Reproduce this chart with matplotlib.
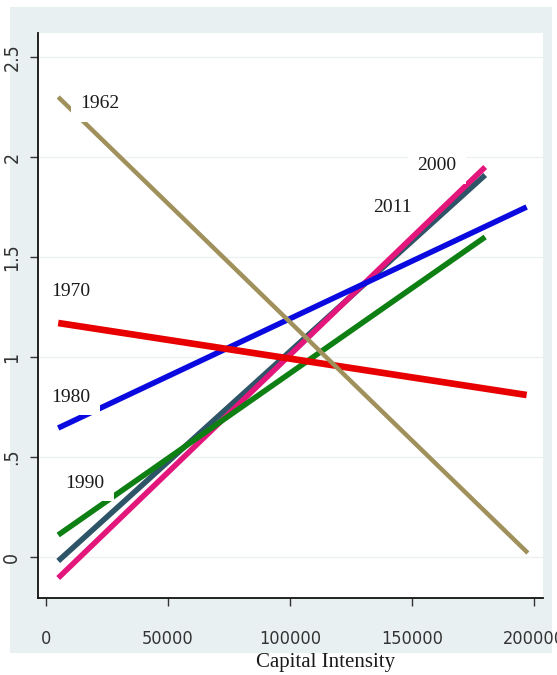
import matplotlib.pyplot as plt
from matplotlib import font_manager
from matplotlib.patches import Rectangle

# -----------------------------
# Data: fitted lines by year
# -----------------------------
years = ["1962", "1970", "1980", "1990", "2000", "2011"]
x_start = [5000, 5000, 5000, 5000, 5000, 5000]
x_end = [197500, 197000, 197000, 180000, 180000, 180000]
y_start = [2.30, 1.17, 0.645, 0.11, -0.105, -0.02]
y_end = [0.02, 0.81, 1.75, 1.60, 1.95, 1.91]

x_ticks = [0, 50000, 100000, 150000, 200000]
y_ticks = [0, 0.5, 1, 1.5, 2, 2.5]
y_tick_labels = ["0", ".5", "1", "1.5", "2", "2.5"]

# -----------------------------
# Styling
# -----------------------------
colors = {
    "1962": "#A0915C",
    "1970": "#E80000",
    "1980": "#0A0AE0",
    "1990": "#0E7F12",
    "2000": "#E3167C",
    "2011": "#2E5468",
}
widths = {"1962": 3.2, "1970": 4.8, "1980": 4.0, "1990": 4.0, "2000": 4.0, "2011": 4.0}
# drawing order, first drawn ends up underneath
z_order = {"2011": 2, "2000": 3, "1990": 4, "1980": 5, "1970": 6, "1962": 7}
label_xy = {
    "1962": (22100, 2.265),
    "1970": (10250, 1.33),
    "1980": (10250, 0.80),
    "1990": (16000, 0.37),
    "2000": (160300, 1.955),
    "2011": (141800, 1.75),
}

serif = ["Liberation Serif", "DejaVu Serif"]


def tick_font(size):
    # condensed sans for the axis numbers
    return font_manager.FontProperties(family="DejaVu Sans", stretch="condensed", size=size)


def plot_lines():
    fig = plt.figure(figsize=(5.57, 6.75), dpi=100)
    fig.patch.set_facecolor("white")

    # light outer panel behind the plot region
    panel = Rectangle((10 / 557, 1 - 653 / 675), 542 / 557, 646 / 675,
                      transform=fig.transFigure, facecolor="#E9F0F1",
                      edgecolor="none", zorder=-5)
    fig.patches.append(panel)

    ax = fig.add_axes([38 / 557, 1 - 598 / 675, 505 / 557, 565 / 675])
    ax.set_facecolor("white")

    for i, yr in enumerate(years):
        ax.plot([x_start[i], x_end[i]], [y_start[i], y_end[i]],
                color=colors[yr], lw=widths[yr], solid_capstyle="butt",
                zorder=z_order[yr])
        lx, ly = label_xy[yr]
        ax.text(lx, ly, yr, family=serif, fontsize=14, color="#1a1a1a",
                ha="center", va="center", zorder=10,
                bbox=dict(boxstyle="square,pad=0.5", fc="white", ec="none"))

    ax.set_xlim(-3280, 203700)
    ax.set_ylim(-0.205, 2.62)

    ax.set_xticks(x_ticks)
    ax.set_xticklabels([str(v) for v in x_ticks], fontproperties=tick_font(13),
                       color="#333333")
    ax.set_yticks(y_ticks)
    ax.set_yticklabels(y_tick_labels, fontproperties=tick_font(14),
                       color="#333333", rotation=90, va="center")
    ax.tick_params(axis="x", length=6, width=1, pad=17, color="#333333")
    ax.tick_params(axis="y", length=6, width=1, pad=6, color="#333333")

    ax.grid(axis="y", color="#EDF1F2", lw=1)
    ax.set_axisbelow(True)

    for side in ["top", "right"]:
        ax.spines[side].set_visible(False)
    for side in ["left", "bottom"]:
        ax.spines[side].set_linewidth(1.3)
        ax.spines[side].set_color("#111111")

    fig.text(326 / 557, 1 - 663 / 675, "Capital Intensity", family=serif,
             fontsize=15, color="#1a1a1a", ha="center", va="center")

    fig.savefig("out.png", dpi=100)
    plt.close(fig)


if __name__ == "__main__":
    plot_lines()
